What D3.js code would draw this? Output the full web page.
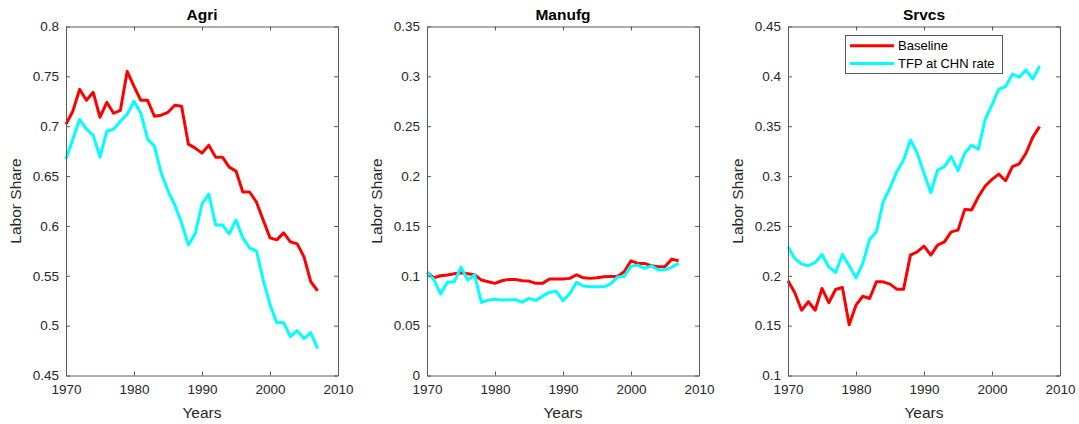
<!DOCTYPE html>
<html lang="en">

<head>
    <meta charset="UTF-8">
    <title>Labor Share by Sector</title>
    <script src="https://d3js.org/d3.v7.min.js"></script>
    <style>
        body { margin: 0; background: #fff; }
        text { font-family: "Liberation Sans", Arial, Helvetica, sans-serif; fill: #262626; }
    </style>
</head>

<body>
    <script>
        // data
        const years = d3.range(1970, 2008);
        const seriesNames = ["Baseline", "TFP at CHN rate"];
        const seriesColors = ["#ff0000", "#00ffff"];
        const panelTitles = ["Agri", "Manufg", "Srvcs"];

        const agriBase = [0.702, 0.715, 0.737, 0.726, 0.734, 0.709, 0.724, 0.713, 0.716, 0.755,
            0.740, 0.726, 0.726, 0.710, 0.711, 0.714, 0.721, 0.720, 0.682, 0.678,
            0.673, 0.681, 0.669, 0.669, 0.659, 0.655, 0.634, 0.634, 0.624, 0.606,
            0.588, 0.586, 0.593, 0.584, 0.582, 0.569, 0.544, 0.535];
        const agriTfp = [0.667, 0.687, 0.707, 0.697, 0.691, 0.669, 0.695, 0.697, 0.705, 0.712,
            0.725, 0.713, 0.687, 0.680, 0.653, 0.635, 0.621, 0.603, 0.581, 0.592,
            0.622, 0.632, 0.601, 0.601, 0.592, 0.606, 0.588, 0.578, 0.575, 0.546,
            0.521, 0.503, 0.503, 0.489, 0.495, 0.487, 0.493, 0.477];

        const manuBase = [0.1034, 0.098, 0.100, 0.1007, 0.102, 0.103, 0.102, 0.101, 0.0957, 0.094,
            0.0924, 0.095, 0.0964, 0.0964, 0.095, 0.0947, 0.0924, 0.0924, 0.0967, 0.0967,
            0.0967, 0.0974, 0.101, 0.098, 0.0974, 0.098, 0.099, 0.0994, 0.0994, 0.104,
            0.115, 0.1124, 0.1124, 0.110, 0.109, 0.1094, 0.1167, 0.115];
        const manuTfp = [0.1034, 0.0964, 0.0817, 0.0934, 0.094, 0.1084, 0.0957, 0.101, 0.0733, 0.0756,
            0.0766, 0.0756, 0.076, 0.076, 0.0736, 0.0773, 0.0753, 0.0796, 0.0833, 0.0846,
            0.0749, 0.0823, 0.0934, 0.0897, 0.089, 0.089, 0.089, 0.092, 0.0987, 0.0994,
            0.1097, 0.1107, 0.1074, 0.110, 0.1057, 0.106, 0.1087, 0.1124];

        const srvBase = [0.195, 0.183, 0.1655, 0.174, 0.1655, 0.1873, 0.173, 0.1863, 0.1883, 0.151,
            0.1705, 0.1795, 0.1772, 0.1939, 0.1939, 0.1916, 0.1866, 0.1866, 0.2207, 0.224,
            0.2297, 0.2207, 0.2307, 0.234, 0.244, 0.2458, 0.2666, 0.266, 0.2792, 0.290,
            0.2967, 0.302, 0.2953, 0.3094, 0.3122, 0.3229, 0.339, 0.3496];
        const srvTfp = [0.229, 0.2174, 0.2117, 0.210, 0.2134, 0.2214, 0.2089, 0.2033, 0.2214, 0.210,
            0.1979, 0.2124, 0.2365, 0.2441, 0.2743, 0.288, 0.3044, 0.3162, 0.3362, 0.323,
            0.3028, 0.2833, 0.3061, 0.3094, 0.3195, 0.3054, 0.3229, 0.3312, 0.3269, 0.357,
            0.3714, 0.3871, 0.3898, 0.4022, 0.3992, 0.4065, 0.3972, 0.4105];

        const xTicks = [1970, 1980, 1990, 2000, 2010];
        const agriTicks = [0.45, 0.5, 0.55, 0.6, 0.65, 0.7, 0.75, 0.8];
        const manuTicks = [0, 0.05, 0.1, 0.15, 0.2, 0.25, 0.3, 0.35];
        const srvTicks = [0.1, 0.15, 0.2, 0.25, 0.3, 0.35, 0.4, 0.45];

        const panels = [
            { title: panelTitles[0], series: [agriBase, agriTfp], ticks: agriTicks },
            { title: panelTitles[1], series: [manuBase, manuTfp], ticks: manuTicks },
            { title: panelTitles[2], series: [srvBase, srvTfp], ticks: srvTicks, legend: true }
        ];

        const width = 1079;
        const height = 424;
        const panelLeft = [66, 427, 788];
        const panelW = 272;
        const plotTop = 26.5;
        const plotBottom = 375.5;
        const axisColor = "#5a5a5a";

        const svg = d3.select("body").append("svg")
            .attr("width", width)
            .attr("height", height);

        const fmt = v => String(+v.toFixed(2));

        panels.forEach((p, i) => {
            const x0 = panelLeft[i];
            const x = d3.scaleLinear().domain([1970, 2010]).range([x0, x0 + panelW]);
            const y = d3.scaleLinear().domain(d3.extent(p.ticks)).range([plotBottom, plotTop]);
            const g = svg.append("g");

            // lines
            const line = d3.line().x((d, j) => x(years[j])).y(d => y(d));
            p.series.forEach((s, k) => {
                g.append("path")
                    .datum(s)
                    .attr("d", line)
                    .attr("fill", "none")
                    .attr("stroke", seriesColors[k])
                    .attr("stroke-width", 3)
                    .attr("stroke-linejoin", "round");
            });

            // axes (ticks inside, box on)
            const tickLen = 4;
            const axB = g.append("g").attr("transform", `translate(0,${plotBottom})`)
                .call(d3.axisBottom(x).tickValues(xTicks).tickSizeInner(-tickLen).tickSizeOuter(0).tickPadding(9).tickFormat(d3.format("d")));
            const axT = g.append("g").attr("transform", `translate(0,${plotTop})`)
                .call(d3.axisTop(x).tickValues(xTicks).tickSizeInner(-tickLen).tickSizeOuter(0).tickFormat(""));
            const axL = g.append("g").attr("transform", `translate(${x0},0)`)
                .call(d3.axisLeft(y).tickValues(p.ticks).tickSizeInner(-tickLen).tickSizeOuter(0).tickPadding(7).tickFormat(fmt));
            const axR = g.append("g").attr("transform", `translate(${x0 + panelW},0)`)
                .call(d3.axisRight(y).tickValues(p.ticks).tickSizeInner(-tickLen).tickSizeOuter(0).tickFormat(""));
            [axB, axT, axL, axR].forEach(a => {
                a.selectAll("path, line").attr("stroke", axisColor);
                a.selectAll("text").attr("fill", "#262626").style("font-size", "13.5px")
                    .style("font-family", '"Liberation Sans", Arial, sans-serif');
            });
            axB.selectAll("text").attr("dy", "0.71em");

            // title
            g.append("text")
                .attr("x", x0 + panelW / 2)
                .attr("y", 20)
                .attr("text-anchor", "middle")
                .style("font-size", "15.5px")
                .style("font-weight", "bold")
                .style("fill", "#000")
                .text(p.title);

            // axis labels
            g.append("text")
                .attr("x", x0 + panelW / 2)
                .attr("y", 418)
                .attr("text-anchor", "middle")
                .style("font-size", "15.5px")
                .text("Years");
            g.append("text")
                .attr("transform", `translate(${x0 - 45},${(plotTop + plotBottom) / 2}) rotate(-90)`)
                .attr("text-anchor", "middle")
                .style("font-size", "15.5px")
                .text("Labor Share");

            if (p.legend) {
                const lg = g.append("g").attr("transform", "translate(845,35)");
                lg.append("rect")
                    .attr("x", 0.5).attr("y", 0.5)
                    .attr("width", 157).attr("height", 38)
                    .attr("fill", "#fff")
                    .attr("stroke", axisColor);
                seriesNames.forEach((name, k) => {
                    const ly = 10.7 + k * 17.7;
                    lg.append("line")
                        .attr("x1", 5).attr("x2", 49)
                        .attr("y1", ly).attr("y2", ly)
                        .attr("stroke", seriesColors[k])
                        .attr("stroke-width", 3);
                    lg.append("text")
                        .attr("x", 53)
                        .attr("y", ly)
                        .attr("dy", "0.35em")
                        .style("font-size", "13px")
                        .style("fill", "#000")
                        .text(name);
                });
            }
        });
    </script>
</body>

</html>
